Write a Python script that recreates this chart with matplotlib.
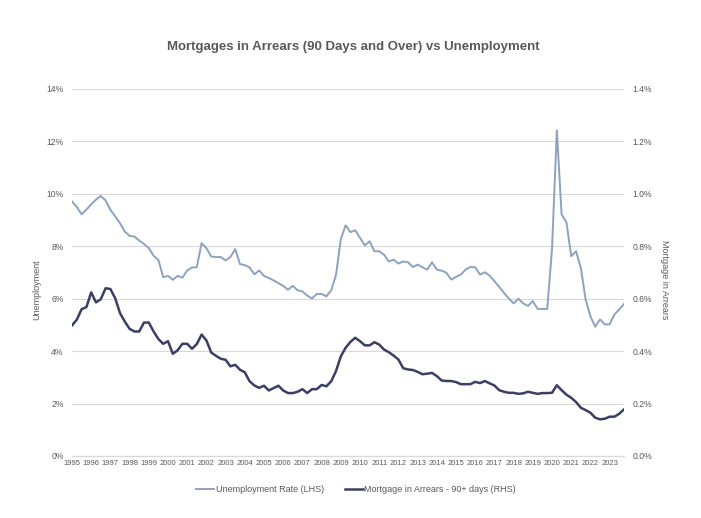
import matplotlib.pyplot as plt
from matplotlib.ticker import FuncFormatter

plt.rcParams['font.family'] = ['Liberation Sans', 'DejaVu Sans']

# quarterly data, 1995 Q1 to 2023 Q4
years = list(range(1995, 2024))

unemployment = [
    9.71, 9.50, 9.22, 9.40, 9.60, 9.78, 9.92, 9.75, 9.39, 9.14,
    8.88, 8.56, 8.40, 8.37, 8.22, 8.09, 7.93, 7.64, 7.48, 6.82,
    6.87, 6.72, 6.87, 6.80, 7.08, 7.19, 7.20, 8.12, 7.93, 7.61,
    7.59, 7.59, 7.46, 7.59, 7.89, 7.32, 7.28, 7.19, 6.93, 7.08,
    6.87, 6.79, 6.70, 6.59, 6.49, 6.34, 6.49, 6.32, 6.28, 6.12,
    6.01, 6.18, 6.18, 6.09, 6.32, 6.91, 8.27, 8.80, 8.54, 8.61,
    8.32, 8.03, 8.19, 7.81, 7.81, 7.68, 7.42, 7.49, 7.34, 7.42,
    7.39, 7.21, 7.30, 7.20, 7.11, 7.39, 7.11, 7.07, 6.99, 6.73,
    6.83, 6.92, 7.11, 7.21, 7.20, 6.92, 7.01, 6.88, 6.67, 6.45,
    6.22, 6.01, 5.82, 6.00, 5.82, 5.72, 5.91, 5.61, 5.61, 5.61,
    7.90, 12.42, 9.21, 8.92, 7.62, 7.81, 7.18, 5.97, 5.33, 4.93,
    5.21, 5.02, 5.02, 5.40, 5.59, 5.80,
]

arrears = [
    0.498, 0.520, 0.560, 0.568, 0.624, 0.586, 0.598, 0.640, 0.637, 0.602,
    0.545, 0.513, 0.485, 0.475, 0.475, 0.509, 0.509, 0.475, 0.446, 0.428,
    0.438, 0.390, 0.403, 0.428, 0.428, 0.409, 0.427, 0.463, 0.441, 0.395,
    0.382, 0.371, 0.367, 0.342, 0.348, 0.329, 0.319, 0.285, 0.269, 0.260,
    0.268, 0.250, 0.259, 0.268, 0.250, 0.240, 0.240, 0.245, 0.255, 0.240,
    0.255, 0.255, 0.271, 0.266, 0.285, 0.324, 0.380, 0.413, 0.435, 0.451,
    0.438, 0.422, 0.422, 0.434, 0.425, 0.406, 0.396, 0.383, 0.368, 0.335,
    0.330, 0.328, 0.321, 0.312, 0.314, 0.317, 0.305, 0.288, 0.286, 0.286,
    0.282, 0.274, 0.274, 0.274, 0.283, 0.278, 0.286, 0.277, 0.269, 0.251,
    0.245, 0.241, 0.241, 0.237, 0.239, 0.245, 0.241, 0.237, 0.240, 0.240,
    0.241, 0.270, 0.251, 0.234, 0.222, 0.206, 0.184, 0.175, 0.165, 0.146,
    0.140, 0.142, 0.150, 0.150, 0.161, 0.178,
]

light = '#8da2bf'
dark = '#3b3f63'
grey = '#595959'

x = list(range(len(unemployment)))

fig = plt.figure(figsize=(7.01, 5.18), dpi=100)
ax = fig.add_axes([0.1027, 0.1197, 0.7875, 0.7085])
ax2 = ax.twinx()

l1, = ax.plot(x, unemployment, color=light, lw=1.4, label='Unemployment Rate (LHS)')
l2, = ax2.plot(x, arrears, color=dark, lw=1.8, label='Mortgage in Arrears - 90+ days (RHS)')

ax.set_xlim(0, len(x) - 1)
ax.set_ylim(0, 14)
ax2.set_ylim(0, 1.4)
ax.set_yticks(range(0, 15, 2))
ax2.set_yticks([i / 10 for i in range(0, 15, 2)])
ax.yaxis.set_major_formatter(FuncFormatter(lambda v, p: f'{v:.0f}%'))
ax2.yaxis.set_major_formatter(FuncFormatter(lambda v, p: f'{v:.1f}%'))

ax.set_xticks([4 * i for i in range(len(years))])
ax.set_xticklabels([str(y) for y in years])

ax.grid(axis='y', color='#d9d9d9', lw=0.8)
ax.set_axisbelow(True)
for a in (ax, ax2):
    for s in ('top', 'left', 'right'):
        a.spines[s].set_visible(False)
    a.spines['bottom'].set_color('#d9d9d9')
    a.tick_params(length=0, colors=grey)
ax.tick_params(axis='x', labelsize=5.5, pad=3)
ax.tick_params(axis='y', labelsize=6.2, pad=6)
ax2.tick_params(axis='y', labelsize=6.2, pad=6)

fig.text(0.504, 0.909, 'Mortgages in Arrears (90 Days and Over) vs Unemployment',
         ha='center', va='center', fontsize=9.5, fontweight='bold', color=grey)
fig.text(37 / 701, 1 - 290 / 518, 'Unemployment', rotation=90,
         ha='center', va='center', fontsize=6.5, color=grey)
fig.text(664 / 701, 1 - 280 / 518, 'Mortgage in Arrears', rotation=270,
         ha='center', va='center', fontsize=6.5, color=grey)

fig.legend(handles=[l1, l2], loc='center', bbox_to_anchor=(356 / 701, 1 - 490 / 518),
           ncol=2, frameon=False, fontsize=6.5, labelcolor=grey,
           handlelength=2.0, handletextpad=0.2, columnspacing=2.3)

fig.savefig('out.png', dpi=100, facecolor='white')
